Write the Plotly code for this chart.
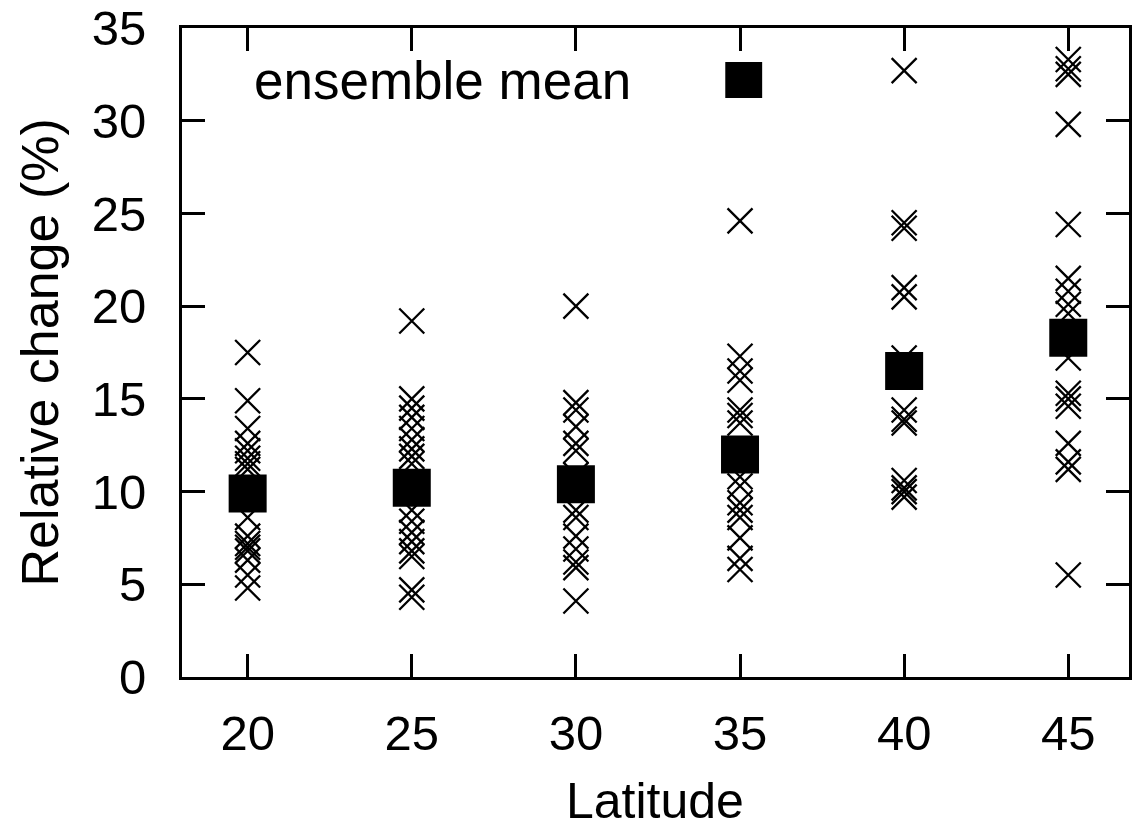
import plotly.graph_objects as go

latitudes = [20, 25, 30, 35, 40, 45]

members_20 = [17.5, 14.9, 13.4, 12.6, 12.2, 11.8, 11.5, 11.2, 8.6, 7.6, 7.2, 7.0, 6.8, 6.3, 5.5, 4.8]
members_25 = [19.2, 15.0, 14.5, 14.0, 13.4, 12.8, 12.3, 11.9, 11.5, 9.0, 8.4, 7.8, 7.3, 6.8, 6.5, 4.7, 4.3]
members_30 = [20.0, 14.8, 14.4, 13.5, 12.6, 12.2, 10.9, 9.0, 8.6, 7.6, 6.9, 6.2, 5.9, 4.1]
members_35 = [24.6, 17.3, 16.5, 16.0, 14.4, 14.1, 13.7, 10.8, 10.3, 9.4, 9.0, 8.6, 7.5, 6.4, 5.8]
members_40 = [32.7, 24.5, 24.2, 21.0, 20.5, 17.2, 16.8, 14.4, 13.9, 13.7, 10.6, 10.2, 10.0, 9.7]
members_45 = [33.3, 32.8, 32.5, 29.8, 24.4, 21.5, 20.8, 20.1, 19.6, 17.2, 15.3, 15.0, 14.6, 12.6, 11.6, 11.2, 5.5]

ensemble_mean = [9.9, 10.2, 10.4, 12.0, 16.5, 18.3]

x_ticks = [20, 25, 30, 35, 40, 45]
y_ticks = [0, 5, 10, 15, 20, 25, 30, 35]

members = [members_20, members_25, members_30, members_35, members_40, members_45]
xs, ys = [], []
for lat, vals in zip(latitudes, members):
    xs += [lat] * len(vals)
    ys += vals

FONT = "Liberation Sans, Arial, Helvetica, sans-serif"

fig = go.Figure()
fig.add_trace(go.Scatter(
    x=xs, y=ys, mode="markers",
    marker=dict(symbol="x-thin", size=25, color="black",
                line=dict(width=2.3, color="black")),
    showlegend=False, hoverinfo="skip"))
fig.add_trace(go.Scatter(
    x=latitudes, y=ensemble_mean, mode="markers",
    marker=dict(symbol="square", size=38, color="black", line=dict(width=0)),
    showlegend=False))

W, H = 1132, 832
L, R, T, B = 182, 0, 28, 155
pw, ph = W - L - R, H - T - B

def px(xp):
    return (xp - L) / pw

def py(yp):
    return (H - B - yp) / ph

fig.add_annotation(text="ensemble mean", x=px(634), y=py(80), xref="paper", yref="paper",
                   xanchor="right", yanchor="middle", showarrow=False,
                   font=dict(size=53, color="black", family=FONT))
fig.add_shape(type="rect", xref="paper", yref="paper",
              x0=px(727), x1=px(764), y0=py(62), y1=py(98),
              fillcolor="black", line=dict(width=0))

fig.add_annotation(text="Latitude", x=px(656), y=py(801), xref="paper", yref="paper",
                   xanchor="center", yanchor="middle", showarrow=False,
                   font=dict(size=50, color="black", family=FONT))
fig.add_annotation(text="Relative change (%)", x=px(40), y=py(352), xref="paper", yref="paper",
                   xanchor="center", yanchor="middle", showarrow=False, textangle=-90,
                   font=dict(size=52, color="black", family=FONT))

axis_common = dict(showline=True, linecolor="black", linewidth=3, mirror="ticks",
                   ticks="inside", ticklen=23, tickwidth=2.5, tickcolor="black",
                   showgrid=False, zeroline=False,
                   tickfont=dict(size=49, color="black", family=FONT))

fig.update_xaxes(range=[18, 46.85], tickvals=x_ticks, ticktext=[str(v) for v in x_ticks],
                 ticklabelstandoff=11, **axis_common)
fig.update_yaxes(range=[0, 35], tickvals=y_ticks, ticktext=[str(v) for v in y_ticks],
                 ticklabelstandoff=23, **axis_common)

fig.update_layout(width=W, height=H, margin=dict(l=L, r=R, t=T, b=B, pad=0),
                  paper_bgcolor="white", plot_bgcolor="white")

fig.write_html("out.html")
